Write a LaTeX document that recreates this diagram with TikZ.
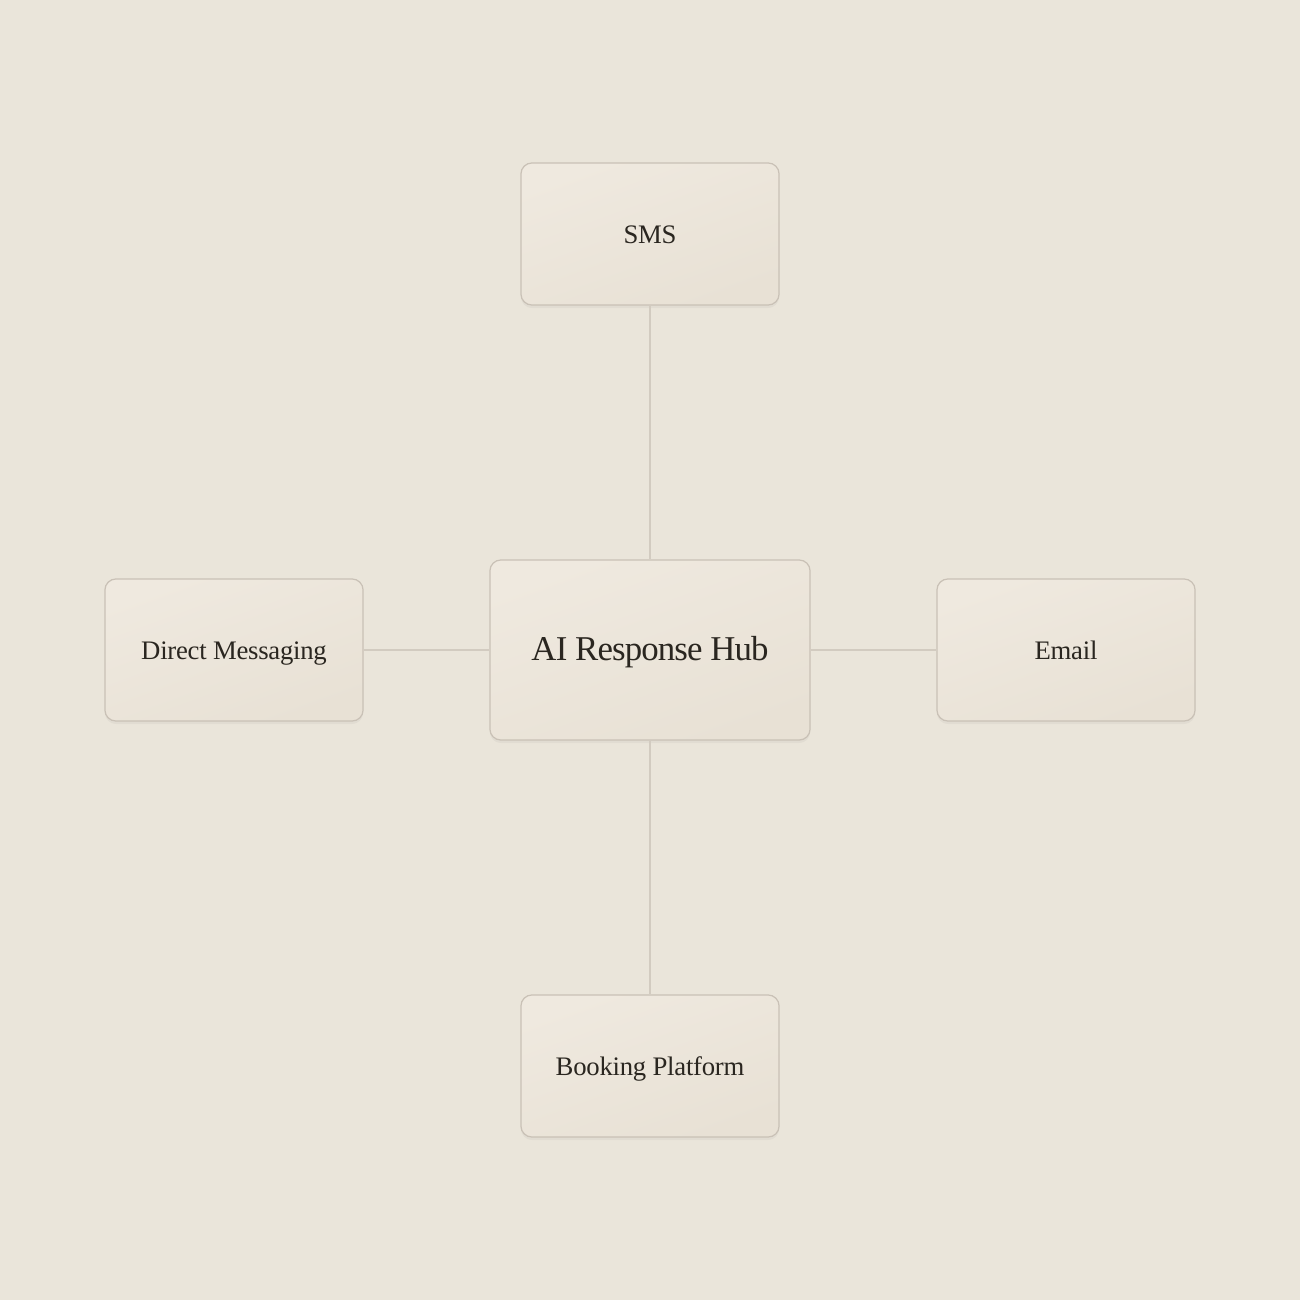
\documentclass[tikz,border=0pt]{standalone}
\usepackage{fontspec}
\setmainfont{Liberation Serif}
\usetikzlibrary{shadows}
\definecolor{bg}{HTML}{EAE5DA}
\definecolor{boxtop}{HTML}{EFE9DF}
\definecolor{boxbot}{HTML}{E8E1D5}
\definecolor{boxline}{HTML}{C9C1B6}
\definecolor{conn}{HTML}{D2CBC0}
\definecolor{ink}{HTML}{2A2620}
\tikzset{
  chanbox/.style={draw=boxline, line width=0.35pt, rounded corners=0.11cm,
    top color=boxtop, bottom color=boxbot, shading angle=20,
    minimum width=2.58cm, minimum height=1.42cm, text=ink,
    text height=0.52em, text depth=0pt,
    font=\fontsize{7.6pt}{9pt}\selectfont\addfontfeature{LetterSpace=-1},
    drop shadow={shadow xshift=0pt, shadow yshift=-0.03cm, opacity=0.035, fill=black}},
  hubbox/.style={chanbox, minimum width=3.2cm, minimum height=1.8cm,
    text height=0.62em,
    font=\fontsize{9.9pt}{12pt}\selectfont\addfontfeature{LetterSpace=-2.5}},
  link/.style={draw=conn, line width=0.45pt}
}
\begin{document}
\begin{tikzpicture}[x=0.01cm,y=-0.01cm]
\fill[bg] (0,0) rectangle (1300,1300);
\useasboundingbox (0,0) rectangle (1300,1300);
\node[hubbox] (hub) at (650,650) {AI Response Hub};
\node[chanbox] (sms) at (650,234) {SMS};
\node[chanbox] (dm) at (234,650) {Direct Messaging};
\node[chanbox] (email) at (1066,650) {Email};
\node[chanbox] (book) at (650,1066) {Booking Platform};
\draw[link] (sms.south) -- (hub.north);
\draw[link] (hub.south) -- (book.north);
\draw[link] (dm.east) -- (hub.west);
\draw[link] (hub.east) -- (email.west);
\end{tikzpicture}
\end{document}
